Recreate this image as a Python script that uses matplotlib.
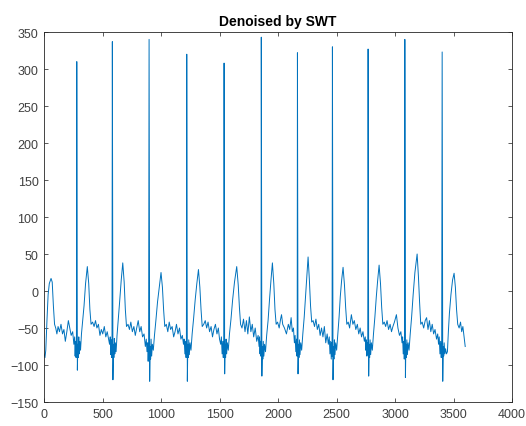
import matplotlib
matplotlib.use('Agg')
import matplotlib.pyplot as plt
import numpy as np

plt.rcParams['font.family'] = ['Liberation Sans', 'DejaVu Sans']

# sample index / amplitude vertices
sample_idx = [
    0, 8, 15, 25, 35, 45, 60, 70, 80, 90, 100, 110, 120, 132, 145, 158, 170, 182, 195, 208,
    220, 232, 245, 255, 262, 266, 270, 274, 277, 280, 285, 289, 293, 297, 301, 306, 312, 320, 330, 342,
    355, 370, 382, 392, 402,
    415, 428, 440, 452, 465, 478, 490, 502, 515, 528, 540, 552, 560, 566, 570, 574, 578, 581, 584, 589,
    593, 597, 601, 605, 610, 616, 624, 634, 646, 660, 673, 685, 695, 705,
    718, 730, 742, 755, 768, 780, 792, 805, 818, 830, 842, 855, 866, 874, 880, 886, 890, 894, 898, 903,
    907, 911, 915, 920, 926, 934, 944, 956, 970, 985, 1000, 1012, 1022, 1032,
    1045, 1058, 1070, 1082, 1095, 1108, 1120, 1132, 1145, 1158, 1170, 1182, 1192, 1198, 1204, 1210, 1214, 1217, 1220, 1225,
    1229, 1233, 1237, 1242, 1248, 1256, 1266, 1278, 1292, 1306, 1320, 1332, 1342, 1352,
    1365, 1378, 1390, 1402, 1415, 1428, 1440, 1452, 1465, 1478, 1490, 1500, 1510, 1516, 1522, 1528, 1532, 1536, 1539, 1544,
    1548, 1552, 1556, 1561, 1567, 1575, 1585, 1598, 1612, 1628, 1647, 1660, 1670, 1680,
    1692, 1705, 1718, 1730, 1742, 1755, 1768, 1780, 1792, 1805, 1818, 1830, 1838, 1842, 1846, 1850, 1853, 1855, 1857, 1862,
    1866, 1870, 1874, 1879, 1885, 1893, 1903, 1915, 1928, 1940, 1952, 1964, 1974, 1984,
    1996, 2010, 2022, 2030, 2040, 2055, 2072, 2088, 2100, 2112, 2122, 2132, 2140, 2146, 2152, 2158, 2162, 2164, 2166, 2171,
    2175, 2179, 2183, 2188, 2194, 2202, 2212, 2224, 2236, 2246, 2257, 2268, 2278, 2288,
    2300, 2312, 2324, 2336, 2348, 2360, 2372, 2384, 2396, 2408, 2420, 2430, 2438, 2444, 2450, 2455, 2459, 2462, 2465, 2470,
    2474, 2478, 2482, 2487, 2493, 2501, 2511, 2522, 2532, 2544, 2556, 2568, 2578, 2588,
    2600, 2612, 2627, 2640, 2652, 2665, 2678, 2690, 2702, 2714, 2726, 2738, 2746, 2750, 2755, 2760, 2764, 2767, 2770, 2775,
    2779, 2783, 2787, 2792, 2798, 2806, 2816, 2828, 2840, 2852, 2864, 2876, 2886, 2896,
    2908, 2920, 2932, 2945, 2958, 2970, 2982, 2995, 3012, 3025, 3038, 3050, 3060, 3065, 3070, 3075, 3079, 3082, 3084, 3089,
    3093, 3097, 3101, 3106, 3112, 3120, 3130, 3142, 3155, 3170, 3189, 3200, 3210, 3220,
    3232, 3245, 3258, 3270, 3282, 3294, 3306, 3318, 3330, 3342, 3355, 3365, 3372, 3378, 3384, 3390, 3395, 3399, 3403, 3408,
    3412, 3416, 3420, 3426, 3432, 3440, 3448, 3456, 3465, 3478, 3492, 3505, 3516, 3526, 3536,
    3548, 3560, 3570, 3580, 3590, 3600,
]
amplitude = [
    -85, -90, -80, -40, -5, 10, 17, 12, -20, -45, -50, -58, -48, -55, -45, -58, -52, -68, -55, -40,
    -50, -60, -55, -72, -62, -88, -68, -90, -70, 310, -107, -72, -90, -62, -85, -68, -80, -58, -40, -20,
    10, 33, 10, -25, -45,
    -42, -48, -40, -50, -45, -60, -52, -58, -48, -62, -55, -65, -72, -62, -86, -66, -90, -72, 337, -120,
    -72, -90, -64, -85, -70, -82, -60, -40, -15, 15, 38, 12, -25, -48,
    -45, -52, -42, -55, -48, -60, -50, -40, -55, -48, -62, -58, -75, -65, -82, -70, -95, -75, 340, -122,
    -75, -92, -65, -88, -72, -80, -60, -40, -15, 5, 25, 5, -25, -48,
    -45, -55, -42, -52, -48, -62, -55, -45, -58, -50, -65, -60, -72, -65, -85, -68, -90, -72, 320, -122,
    -72, -90, -66, -86, -70, -80, -58, -38, -12, 10, 29, 5, -25, -48,
    -45, -40, -50, -42, -55, -48, -62, -52, -45, -58, -50, -65, -72, -62, -85, -68, -90, -72, 308, -112,
    -72, -90, -65, -85, -70, -80, -58, -38, -12, 12, 33, 8, -22, -45,
    -50, -38, -55, -40, -58, -35, -55, -45, -62, -50, -68, -60, -75, -62, -85, -68, -88, -72, 343, -115,
    -75, -92, -68, -88, -72, -82, -60, -40, -10, 15, 38, 10, -25, -45,
    -42, -50, -38, -32, -45, -50, -58, -45, -52, -36, -55, -50, -70, -60, -82, -65, -88, -72, 322, -112,
    -72, -90, -66, -86, -70, -80, -58, -35, -5, 20, 46, 15, -20, -42,
    -40, -48, -38, -52, -45, -60, -50, -62, -48, -70, -58, -72, -62, -85, -68, -92, -70, -88, 330, -120,
    -75, -92, -66, -86, -70, -80, -58, -35, -8, 15, 32, 8, -22, -45,
    -42, -50, -32, -45, -40, -52, -45, -58, -50, -62, -55, -68, -62, -80, -66, -88, -70, -85, 327, -115,
    -72, -90, -66, -86, -70, -80, -58, -35, -8, 15, 35, 10, -22, -45,
    -42, -48, -40, -52, -45, -55, -48, -42, -32, -50, -60, -55, -70, -62, -85, -68, -92, -75, 340, -117,
    -72, -90, -66, -86, -70, -80, -58, -35, -5, 25, 50, 20, -15, -45,
    -42, -50, -40, -36, -52, -40, -55, -45, -58, -52, -65, -58, -72, -62, -85, -68, -90, -72, 323, -122,
    -75, -88, -70, -85, -78, -85, -82, -55, -30, -5, 15, 24, 5, -25, -45,
    -50, -42, -55, -48, -62, -75,
]

x_ticks = np.arange(0, 4001, 500)
y_ticks = np.arange(-150, 351, 50)

fig = plt.figure(figsize=(5.26, 4.27), dpi=100)
ax = fig.add_axes([0.0837, 0.0562, 0.8897, 0.8665])

ax.plot(sample_idx, amplitude, color='#0072BD', lw=0.7)

ax.set_xlim(0, 4000)
ax.set_ylim(-150, 350)
ax.set_xticks(x_ticks)
ax.set_yticks(y_ticks)
ax.tick_params(direction='in', top=True, right=True, length=3, width=0.6,
               labelsize=9, colors='#404040', pad=4)
for sp in ax.spines.values():
    sp.set_color('#262626')
    sp.set_linewidth(0.6)

ax.set_title('Denoised by SWT', fontsize=10, fontweight='bold', color='black', pad=5)

fig.savefig('out.png', dpi=100)
